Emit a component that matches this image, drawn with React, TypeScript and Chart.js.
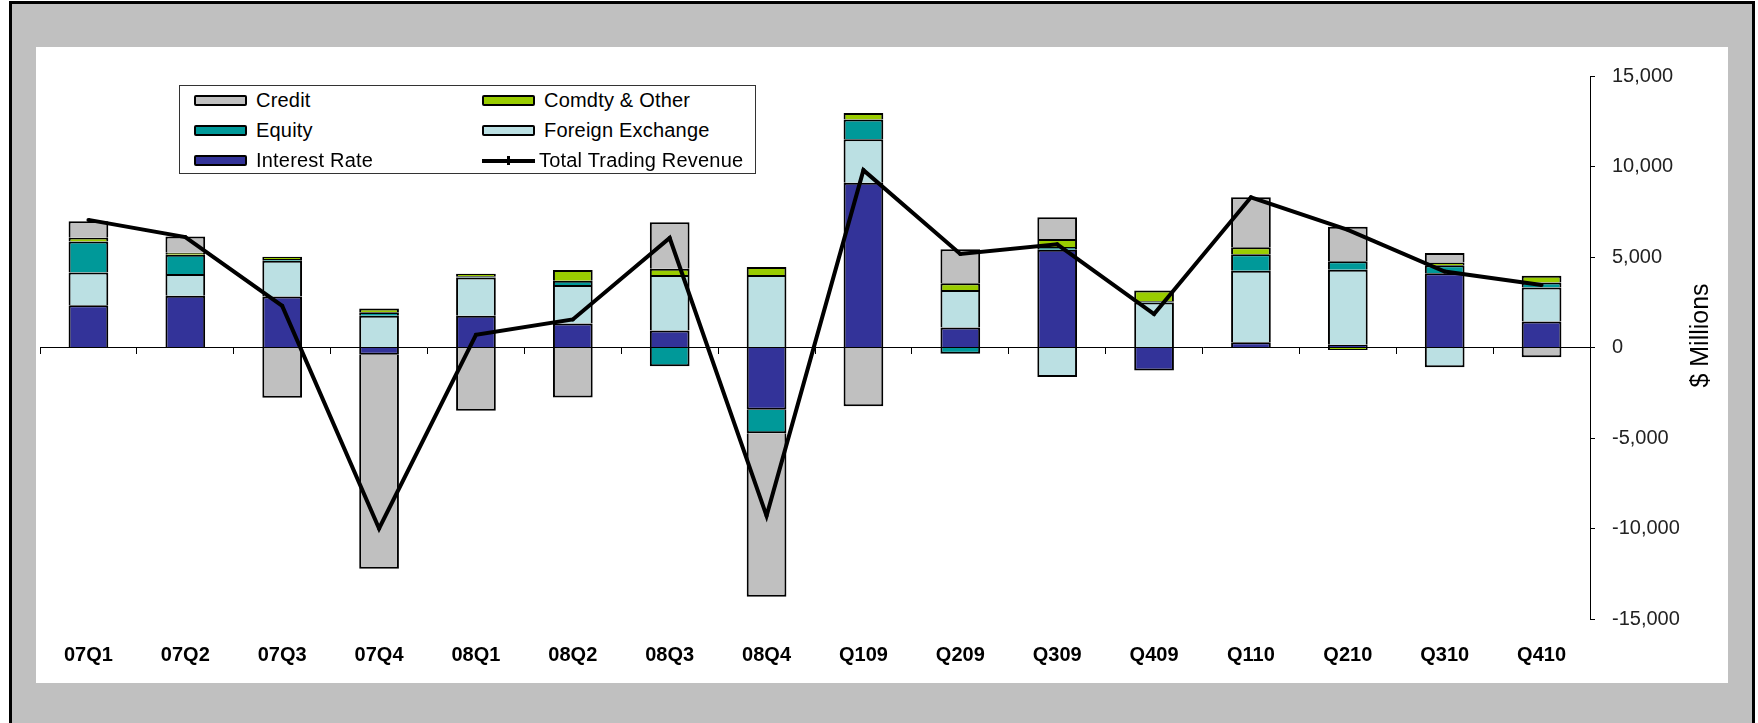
import React, { useEffect, useRef } from "react";
import { Chart, registerables } from "chart.js";

Chart.register(...registerables);

const categories = ["07Q1", "07Q2", "07Q3", "07Q4", "08Q1", "08Q2", "08Q3", "08Q4", "Q109", "Q209", "Q309", "Q409", "Q110", "Q210", "Q310", "Q410"];
const interestRate = [2340, 2860, 2820, -400, 1750, 1330, 940, -3440, 9100, 1100, 5400, -1270, 290, 150, 4100, 1430];
const foreignExchange = [1810, 1200, 1970, 1750, 2120, 2120, 3060, 4000, 2410, 2070, -1630, 2480, 3950, 4150, -1090, 1880];
const equity = [1700, 1070, 100, 200, 60, 240, -1030, -1300, 1090, -340, 150, 80, 910, 470, 450, 280];
const comdtyOther = [220, 100, 120, 200, 150, 590, 350, 450, 350, 375, 450, 590, 390, -140, 140, 370];
const credit = [900, 900, -2780, -11830, -3500, -2760, 2570, -9030, -3250, 1880, 1200, 0, 2765, 1900, 530, -540];
const totalRevenue = [7050, 6100, 2300, -10000, 700, 1550, 6050, -9300, 9800, 5170, 5700, 1850, 8300, 6500, 4200, 3450];
const yTicks = [-15000, -10000, -5000, 0, 5000, 10000, 15000];

const FONT = '"Liberation Sans", Arial, Helvetica, sans-serif';

const COLORS = {
  credit: "#C0C0C0",
  comdty: "#99CC00",
  equity: "#009999",
  fx: "#BBE0E3",
  ir: "#333399",
};

const legendItems = [
  { label: "Credit", color: COLORS.credit, col: 0, row: 0 },
  { label: "Comdty & Other", color: COLORS.comdty, col: 1, row: 0 },
  { label: "Equity", color: COLORS.equity, col: 0, row: 1 },
  { label: "Foreign Exchange", color: COLORS.fx, col: 1, row: 1 },
  { label: "Interest Rate", color: COLORS.ir, col: 0, row: 2 },
  { label: "Total Trading Revenue", color: null, col: 1, row: 2 },
];

const fmt = (v: number) => {
  const s = Math.abs(v).toString().replace(/\B(?=(\d{3})+(?!\d))/g, ",");
  return (v < 0 ? "-" : "") + s;
};

export default function App() {
  const ref = useRef<HTMLCanvasElement>(null);

  useEffect(() => {
    if (!ref.current) return;
    Chart.defaults.font.family = FONT;
    const titlePlugin = {
      id: "rotTitle",
      afterDraw(chart: any) {
        const ctx = chart.ctx;
        const ys = chart.scales.y;
        const ca = chart.chartArea;
        ctx.save();
        ctx.translate(ys.right - 27, (ca.top + ca.bottom) / 2 - 12);
        ctx.rotate(-Math.PI / 2);
        ctx.font = `25px ${FONT}`;
        ctx.fillStyle = "#000";
        ctx.textAlign = "center";
        ctx.textBaseline = "middle";
        ctx.fillText("$ Millions", 0, 0);
        ctx.restore();
      },
    };
    const barDs = (label: string, data: number[], color: string) => ({
      type: "bar" as const,
      label,
      data,
      backgroundColor: color,
      borderColor: "#000",
      borderWidth: 2,
      order: 1,
      stack: "bars",
      barPercentage: 0.41,
      categoryPercentage: 1,
    });
    const chart = new Chart(ref.current, {
      type: "bar",
      data: {
        labels: categories,
        datasets: [
          {
            type: "line",
            label: "Total Trading Revenue",
            data: totalRevenue,
            borderColor: "#000",
            backgroundColor: "#000",
            borderWidth: 4,
            pointRadius: 2,
            pointBackgroundColor: "#000",
            pointBorderWidth: 0,
            tension: 0,
            order: 0,
            stack: "line",
          } as any,
          barDs("Interest Rate", interestRate, COLORS.ir),
          barDs("Foreign Exchange", foreignExchange, COLORS.fx),
          barDs("Equity", equity, COLORS.equity),
          barDs("Comdty & Other", comdtyOther, COLORS.comdty),
          barDs("Credit", credit, COLORS.credit),
        ],
      },
      options: {
        animation: false,
        responsive: false,
        devicePixelRatio: 1,
        layout: { padding: { left: 2, top: 29, right: 0, bottom: 0 } },
        plugins: { legend: { display: false }, tooltip: { enabled: false } },
        scales: {
          x: {
            type: "category",
            stacked: true,
            offset: true,
            grid: { display: false, drawTicks: false },
            border: { display: false },
            ticks: {
              font: { size: 20, weight: "bold", family: FONT },
              color: "#000",
              padding: 24,
              maxRotation: 0,
              autoSkip: false,
            },
            afterFit: (s: any) => {
              s.height = 64;
            },
          },
          x2: {
            type: "category",
            axis: "x",
            position: { y: 0 },
            offset: true,
            grid: { offset: true, drawOnChartArea: false, drawTicks: true, tickLength: 6, color: "#000", lineWidth: 1 },
            border: { display: true, color: "#000", width: 1 },
            ticks: { display: false },
            afterFit: (s: any) => {
              s.height = 0;
            },
          } as any,
          y: {
            type: "linear",
            position: "right",
            stacked: true,
            min: -15000,
            max: 15000,
            afterBuildTicks: (s: any) => {
              s.ticks = yTicks.map((v) => ({ value: v }));
            },
            grid: { drawOnChartArea: false, drawTicks: true, tickLength: 5, color: "#000" },
            border: { display: true, color: "#000", width: 1 },
            ticks: {
              padding: 17,
              font: { size: 20, family: FONT },
              color: "#222",
              callback: (v: any) => fmt(Number(v)),
            },
            afterFit: (s: any) => {
              s.width = 138;
            },
          },
        },
      } as any,
      plugins: [titlePlugin],
    });
    return () => chart.destroy();
  }, []);

  return (
    <div style={{ position: "absolute", left: 0, top: 0, width: 1758, height: 723, background: "#fff", overflow: "hidden" }}>
      <div
        style={{
          position: "absolute",
          left: 9,
          top: 1,
          width: 1746,
          height: 800,
          border: "3px solid #000",
          background: "#C0C0C0",
          boxSizing: "border-box",
        }}
      />
      <canvas
        ref={ref}
        width={1692}
        height={636}
        style={{ position: "absolute", left: 36, top: 47, width: 1692, height: 636, background: "#fff" }}
      />
      <div
        style={{
          position: "absolute",
          left: 179,
          top: 85,
          width: 577,
          height: 89,
          border: "1px solid #333",
          background: "#fff",
          boxSizing: "border-box",
          fontFamily: FONT,
          fontSize: 20,
          color: "#000",
        }}
      >
        {legendItems.map((it) => {
          const left = it.col === 0 ? 14 : 302;
          const top = 14 + it.row * 30 - 15;
          return (
            <div
              key={it.label}
              style={{ position: "absolute", left, top, height: 30, display: "flex", alignItems: "center", whiteSpace: "nowrap" }}
            >
              {it.color ? (
                <div
                  style={{
                    width: 53,
                    height: 11,
                    border: "2px solid #000",
                    borderRadius: 2,
                    background: it.color,
                    boxSizing: "border-box",
                  }}
                />
              ) : (
                <div style={{ position: "relative", width: 53, height: 11 }}>
                  <div style={{ position: "absolute", left: 0, top: 4, width: 53, height: 4, background: "#000" }} />
                  <div style={{ position: "absolute", left: 25, top: 1, width: 3, height: 9, background: "#000" }} />
                </div>
              )}
              <span style={{ marginLeft: it.color ? 9 : 4, letterSpacing: 0.2 }}>{it.label}</span>
            </div>
          );
        })}
      </div>
    </div>
  );
}
